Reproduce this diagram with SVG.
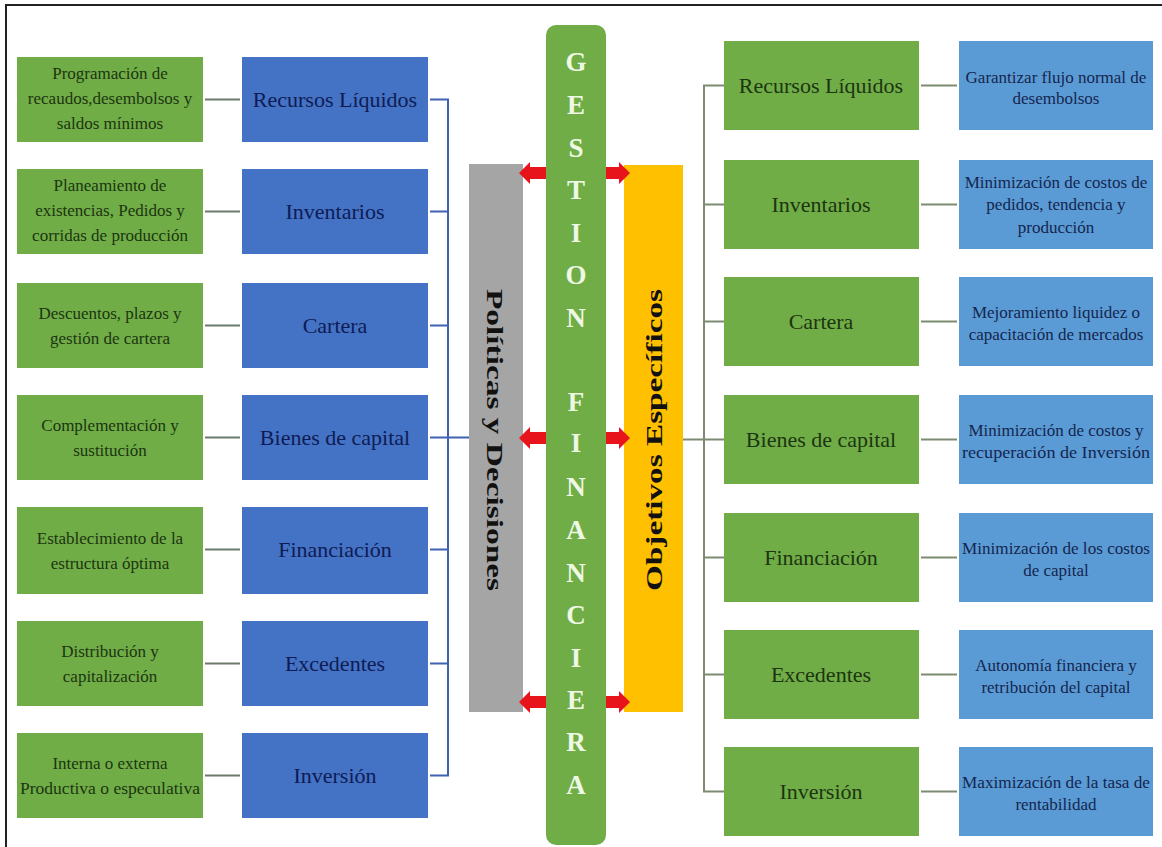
<svg xmlns="http://www.w3.org/2000/svg" width="1162" height="847" viewBox="0 0 1162 847" font-family="Liberation Serif, serif" text-anchor="middle">
<defs>
<style>
.g{fill:#70AD47}
.b{fill:#4472C4}
.lb{fill:#5B9BD5}
.tg{font-size:17px;fill:#1c3510}
.tb{font-size:22px;fill:#0e1c55}
.tgr{font-size:22px;fill:#1c3510}
.tlb{font-size:17px;fill:#14264f}
.cL{stroke:#6b7b6b;stroke-width:2;fill:none}
.cB{stroke:#3f63b0;stroke-width:2;fill:none}
.cR{stroke:#7c8c72;stroke-width:2;fill:none}
.let{font-size:27px;font-weight:bold;fill:#eef8e4}
.vt{font-size:23px;font-weight:bold;fill:#111}
.arr{fill:#e8141b}
</style>
</defs>
<rect x="0" y="0" width="1162" height="847" fill="#ffffff"/>
<rect x="6" y="5" width="1180" height="870" fill="none" stroke="#222" stroke-width="2"/>

<g id="connectors">
<line class="cL" x1="205" y1="99.5" x2="240" y2="99.5"/>
<line class="cL" x1="205" y1="211.5" x2="240" y2="211.5"/>
<line class="cL" x1="205" y1="325.5" x2="240" y2="325.5"/>
<line class="cL" x1="205" y1="437.5" x2="240" y2="437.5"/>
<line class="cL" x1="205" y1="549.5" x2="240" y2="549.5"/>
<line class="cL" x1="205" y1="663.5" x2="240" y2="663.5"/>
<line class="cL" x1="205" y1="775.5" x2="240" y2="775.5"/>
<path class="cB" d="M430 99.5H448V775.5H430M430 211.5H448M430 325.5H448M430 437.5H469M430 549.5H448M430 663.5H448"/>
<path class="cR" d="M724 85.5H704V791.5H724M704 204.5H724M704 321.5H724M683 439.5H724M704 557.5H724M704 674.5H724"/>
<line class="cR" x1="921" y1="85.5" x2="957" y2="85.5"/>
<line class="cR" x1="921" y1="204.5" x2="957" y2="204.5"/>
<line class="cR" x1="921" y1="321.5" x2="957" y2="321.5"/>
<line class="cR" x1="921" y1="439.5" x2="957" y2="439.5"/>
<line class="cR" x1="921" y1="557.5" x2="957" y2="557.5"/>
<line class="cR" x1="921" y1="674.5" x2="957" y2="674.5"/>
<line class="cR" x1="921" y1="791.5" x2="957" y2="791.5"/>
</g>

<g id="gestion">
<rect class="g" x="546" y="25" width="60" height="820" rx="10"/>
<text class="let" x="576" y="71">G</text>
<text class="let" x="576" y="114">E</text>
<text class="let" x="576" y="157">S</text>
<text class="let" x="576" y="199">T</text>
<text class="let" x="576" y="242">I</text>
<text class="let" x="576" y="284">O</text>
<text class="let" x="576" y="327">N</text>
<text class="let" x="576" y="411">F</text>
<text class="let" x="576" y="452">I</text>
<text class="let" x="576" y="496">N</text>
<text class="let" x="576" y="539">A</text>
<text class="let" x="576" y="582">N</text>
<text class="let" x="576" y="624">C</text>
<text class="let" x="576" y="667">I</text>
<text class="let" x="576" y="709">E</text>
<text class="let" x="576" y="751">R</text>
<text class="let" x="576" y="794">A</text>
</g>

<g id="politicas">
<rect x="469" y="164" width="54" height="548" fill="#A5A5A5"/>
<text class="vt" transform="translate(495,440) rotate(90)" dy="8" textLength="302" lengthAdjust="spacingAndGlyphs">Políticas y Decisiones</text>
</g>
<g id="objetivos">
<rect x="624" y="165" width="59" height="547" fill="#FFC000"/>
<text class="vt" transform="translate(654,440) rotate(-90)" dy="8" textLength="302" lengthAdjust="spacingAndGlyphs">Objetivos Específicos</text>
</g>

<g id="arrows">
<path class="arr" d="M519 173L530 162V167H546V179H530V184Z"/>
<path class="arr" d="M519 438L530 427V432H546V444H530V449Z"/>
<path class="arr" d="M519 702L530 691V696H546V708H530V713Z"/>
<path class="arr" d="M630 173L619 162V167H606V179H619V184Z"/>
<path class="arr" d="M630 438L619 427V432H606V444H619V449Z"/>
<path class="arr" d="M630 702L619 691V696H606V708H619V713Z"/>
</g>

<g id="l-green-1"><rect class="g" x="17" y="57" width="186" height="85"/>
<text class="tg" x="110" y="79">Programación de</text><text class="tg" x="110" y="104">recaudos,desembolsos y</text><text class="tg" x="110" y="129">saldos mínimos</text></g>
<g id="l-green-2"><rect class="g" x="17" y="169" width="186" height="85"/>
<text class="tg" x="110" y="191">Planeamiento de</text><text class="tg" x="110" y="216">existencias, Pedidos y</text><text class="tg" x="110" y="241">corridas de producción</text></g>
<g id="l-green-3"><rect class="g" x="17" y="283" width="186" height="85"/>
<text class="tg" x="110" y="319">Descuentos, plazos y</text><text class="tg" x="110" y="344">gestión de cartera</text></g>
<g id="l-green-4"><rect class="g" x="17" y="395" width="186" height="85"/>
<text class="tg" x="110" y="431">Complementación y</text><text class="tg" x="110" y="456">sustitución</text></g>
<g id="l-green-5"><rect class="g" x="17" y="507" width="186" height="87"/>
<text class="tg" x="110" y="544">Establecimiento de la</text><text class="tg" x="110" y="569">estructura óptima</text></g>
<g id="l-green-6"><rect class="g" x="17" y="621" width="186" height="85"/>
<text class="tg" x="110" y="657">Distribución y</text><text class="tg" x="110" y="682">capitalización</text></g>
<g id="l-green-7"><rect class="g" x="17" y="733" width="186" height="85"/>
<text class="tg" x="110" y="769">Interna o externa</text><text class="tg" x="110" y="794" textLength="180" lengthAdjust="spacingAndGlyphs">Productiva o especulativa</text></g>

<g id="l-blue-1"><rect class="b" x="242" y="57" width="186" height="85"/><text class="tb" x="335" y="107">Recursos Líquidos</text></g>
<g id="l-blue-2"><rect class="b" x="242" y="169" width="186" height="85"/><text class="tb" x="335" y="219">Inventarios</text></g>
<g id="l-blue-3"><rect class="b" x="242" y="283" width="186" height="85"/><text class="tb" x="335" y="333">Cartera</text></g>
<g id="l-blue-4"><rect class="b" x="242" y="395" width="186" height="85"/><text class="tb" x="335" y="445">Bienes de capital</text></g>
<g id="l-blue-5"><rect class="b" x="242" y="507" width="186" height="87"/><text class="tb" x="335" y="557">Financiación</text></g>
<g id="l-blue-6"><rect class="b" x="242" y="621" width="186" height="85"/><text class="tb" x="335" y="671">Excedentes</text></g>
<g id="l-blue-7"><rect class="b" x="242" y="733" width="186" height="85"/><text class="tb" x="335" y="783">Inversión</text></g>

<g id="r-green-1"><rect class="g" x="724" y="41" width="195" height="89"/><text class="tgr" x="821" y="93">Recursos Líquidos</text></g>
<g id="r-green-2"><rect class="g" x="724" y="160" width="195" height="89"/><text class="tgr" x="821" y="212">Inventarios</text></g>
<g id="r-green-3"><rect class="g" x="724" y="277" width="195" height="89"/><text class="tgr" x="821" y="329">Cartera</text></g>
<g id="r-green-4"><rect class="g" x="724" y="395" width="195" height="89"/><text class="tgr" x="821" y="447">Bienes de capital</text></g>
<g id="r-green-5"><rect class="g" x="724" y="513" width="195" height="89"/><text class="tgr" x="821" y="565">Financiación</text></g>
<g id="r-green-6"><rect class="g" x="724" y="630" width="195" height="89"/><text class="tgr" x="821" y="682">Excedentes</text></g>
<g id="r-green-7"><rect class="g" x="724" y="747" width="195" height="89"/><text class="tgr" x="821" y="799">Inversión</text></g>

<g id="r-blue-1"><rect class="lb" x="959" y="41" width="194" height="89"/>
<text class="tlb" x="1056" y="83">Garantizar flujo normal de</text><text class="tlb" x="1056" y="104">desembolsos</text></g>
<g id="r-blue-2"><rect class="lb" x="959" y="160" width="194" height="89"/>
<text class="tlb" x="1056" y="188">Minimización de costos de</text><text class="tlb" x="1056" y="210">pedidos, tendencia y</text><text class="tlb" x="1056" y="233">producción</text></g>
<g id="r-blue-3"><rect class="lb" x="959" y="277" width="194" height="89"/>
<text class="tlb" x="1056" y="318">Mejoramiento liquidez o</text><text class="tlb" x="1056" y="340">capacitación de mercados</text></g>
<g id="r-blue-4"><rect class="lb" x="959" y="395" width="194" height="89"/>
<text class="tlb" x="1056" y="436">Minimización de costos y</text><text class="tlb" x="1056" y="458" textLength="188" lengthAdjust="spacingAndGlyphs">recuperación de Inversión</text></g>
<g id="r-blue-5"><rect class="lb" x="959" y="513" width="194" height="89"/>
<text class="tlb" x="1056" y="554" textLength="188" lengthAdjust="spacingAndGlyphs">Minimización de los costos</text><text class="tlb" x="1056" y="576">de capital</text></g>
<g id="r-blue-6"><rect class="lb" x="959" y="630" width="194" height="89"/>
<text class="tlb" x="1056" y="671">Autonomía financiera y</text><text class="tlb" x="1056" y="693">retribución del capital</text></g>
<g id="r-blue-7"><rect class="lb" x="959" y="747" width="194" height="89"/>
<text class="tlb" x="1056" y="788" textLength="188" lengthAdjust="spacingAndGlyphs">Maximización de la tasa de</text><text class="tlb" x="1056" y="810">rentabilidad</text></g>
</svg>
